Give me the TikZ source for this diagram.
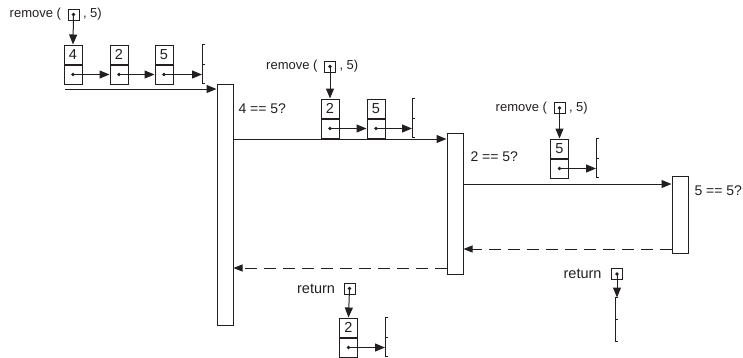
\documentclass[tikz,border=0pt]{standalone}
\usepackage{fontspec}
\setmainfont{Liberation Sans}
\usetikzlibrary{arrows.meta}
\definecolor{ink}{HTML}{231F20}
\newcommand{\nullbr}[1]{%
  \draw[ink] ([xshift=3pt]#1.north) -- (#1.north) -- (#1.south) -- ([xshift=3pt]#1.south);
  \draw[ink] (#1.center) -- ([xshift=3pt]#1.center);}
\begin{document}
\begin{tikzpicture}[x=1pt,y=-1pt,line width=1pt,
  cell/.style={draw=ink, minimum width=18pt, minimum height=19pt, inner sep=0pt, font=\fontsize{14.5}{14}\selectfont, text=ink},
  nullnode/.style={minimum width=0pt, minimum height=38pt, inner sep=0pt},
  ptr/.style={draw=ink, -{Triangle[length=10pt,width=8pt]}},
  ret/.style={draw=ink, dash pattern=on 12pt off 7pt, -{Triangle[length=9pt,width=7pt]}},
  icon/.style={draw=ink, minimum size=11pt, inner sep=0pt},
  act/.style={draw=ink, fill=white, minimum width=16pt, inner sep=0pt},
  lbl/.style={inner sep=0pt, font=\fontsize{13}{14}\selectfont, text=ink},
  rlbl/.style={inner sep=0pt, font=\fontsize{14.5}{14}\selectfont, text=ink},
  cmp/.style={inner sep=0pt, font=\fontsize{14}{14}\selectfont, text=ink},
  dot/.style={fill=ink}]
\useasboundingbox (0,0) rectangle (743,357);

% activation boxes
\node[act, minimum height=241pt] (A1) at (225,204.5) {};
\node[act, minimum height=141pt] (A2) at (455,203.5) {};
\node[act, minimum height=77pt]  (A3) at (680,214.5) {};

% ---- first list
\node[icon] (i1) at (73.5,14.5) {};
\fill[dot] (i1.center) circle (1.8);
\node[lbl, anchor=east] (t1a) at ([xshift=-6pt]i1.west) {remove (};
\node[lbl, anchor=west] (t1b) at ([xshift=3pt]i1.east) {, 5)};
\node[cell] (a1v) at (73,54.5) {4};
\node[cell, anchor=north] (a1p) at (a1v.south) {};
\node[cell] (a2v) at (119,54.5) {2};
\node[cell, anchor=north] (a2p) at (a2v.south) {};
\node[cell] (a3v) at (164,54.5) {5};
\node[cell, anchor=north] (a3p) at (a3v.south) {};
\node[nullnode] (az) at (202,64) {};
\nullbr{az}
\draw[ptr] (i1.center) -- (a1v.north);
\fill[dot] (a1p.center) circle (1.8); \draw[ptr] (a1p.center) -- (a2p.west);
\fill[dot] (a2p.center) circle (1.8); \draw[ptr] (a2p.center) -- (a3p.west);
\fill[dot] (a3p.center) circle (1.8); \draw[ptr] (a3p.center) -- (a3p.center -| az.center);

% ---- second list
\node[icon] (i2) at (330,66.5) {};
\fill[dot] (i2.center) circle (1.8);
\node[lbl, anchor=east] (t2a) at ([xshift=-6pt]i2.west) {remove (};
\node[lbl, anchor=west] (t2b) at ([xshift=3pt]i2.east) {, 5)};
\node[cell] (b1v) at (330,108.5) {2};
\node[cell, anchor=north] (b1p) at (b1v.south) {};
\node[cell] (b2v) at (376,108.5) {5};
\node[cell, anchor=north] (b2p) at (b2v.south) {};
\node[nullnode] (bz) at (412,118) {};
\nullbr{bz}
\draw[ptr] (i2.center) -- (b1v.north);
\fill[dot] (b1p.center) circle (1.8); \draw[ptr] (b1p.center) -- (b2p.west);
\fill[dot] (b2p.center) circle (1.8); \draw[ptr] (b2p.center) -- (b2p.center -| bz.center);

% ---- third list
\node[icon] (i3) at (559.5,108) {};
\fill[dot] (i3.center) circle (1.8);
\node[lbl, anchor=east] (t3a) at ([xshift=-6pt]i3.west) {remove (};
\node[lbl, anchor=west] (t3b) at ([xshift=3pt]i3.east) {, 5)};
\node[cell] (c1v) at (559.5,148.5) {5};
\node[cell, anchor=north] (c1p) at (c1v.south) {};
\node[nullnode] (cz) at (596,158) {};
\nullbr{cz}
\draw[ptr] (i3.center) -- (c1v.north);
\fill[dot] (c1p.center) circle (1.8); \draw[ptr] (c1p.center) -- (c1p.center -| cz.center);

% ---- first return
\node[icon] (i4) at (349.5,288.5) {};
\fill[dot] (i4.center) circle (1.8);
\node[rlbl, anchor=east] (t4) at ([xshift=-8pt]i4.west) {return};
\node[cell] (d1v) at (348.5,327.5) {2};
\node[cell, anchor=north] (d1p) at (d1v.south) {};
\node[nullnode] (dz) at (385,337) {};
\nullbr{dz}
\draw[ptr] (i4.center) -- (d1v.north);
\fill[dot] (d1p.center) circle (1.8); \draw[ptr] (d1p.center) -- (d1p.center -| dz.center);

% ---- second return
\node[icon] (i5) at (617,274) {};
\fill[dot] (i5.center) circle (1.8);
\node[rlbl, anchor=east] (t5) at ([xshift=-9pt]i5.west) {return};
\node[nullnode, minimum height=43pt] (ez) at (615,319.5) {};
\nullbr{ez}
\draw[ptr] (i5.center) -- (i5.center |- ez.north);

% ---- comparisons
\node[cmp, anchor=west] (q1) at (238,108.5) {4 == 5?};
\node[cmp, anchor=west] (q2) at (470,157) {2 == 5?};
\node[cmp, anchor=west] (q3) at (694,190.5) {5 == 5?};

% ---- calls
\coordinate (c0) at (65,89);
\draw[ptr] (c0) -- (c0 -| A1.west);
\draw[ptr] (A1.east |- 0,139) -- (A2.west |- 0,139);
\draw[ptr] (A2.east |- 0,184) -- (A3.west |- 0,184);

% ---- returns
\draw[ret] (A3.west |- 0,249) -- (A2.east |- 0,249);
\draw[ret] (A2.west |- 0,268) -- (A1.east |- 0,268);
\end{tikzpicture}
\end{document}
